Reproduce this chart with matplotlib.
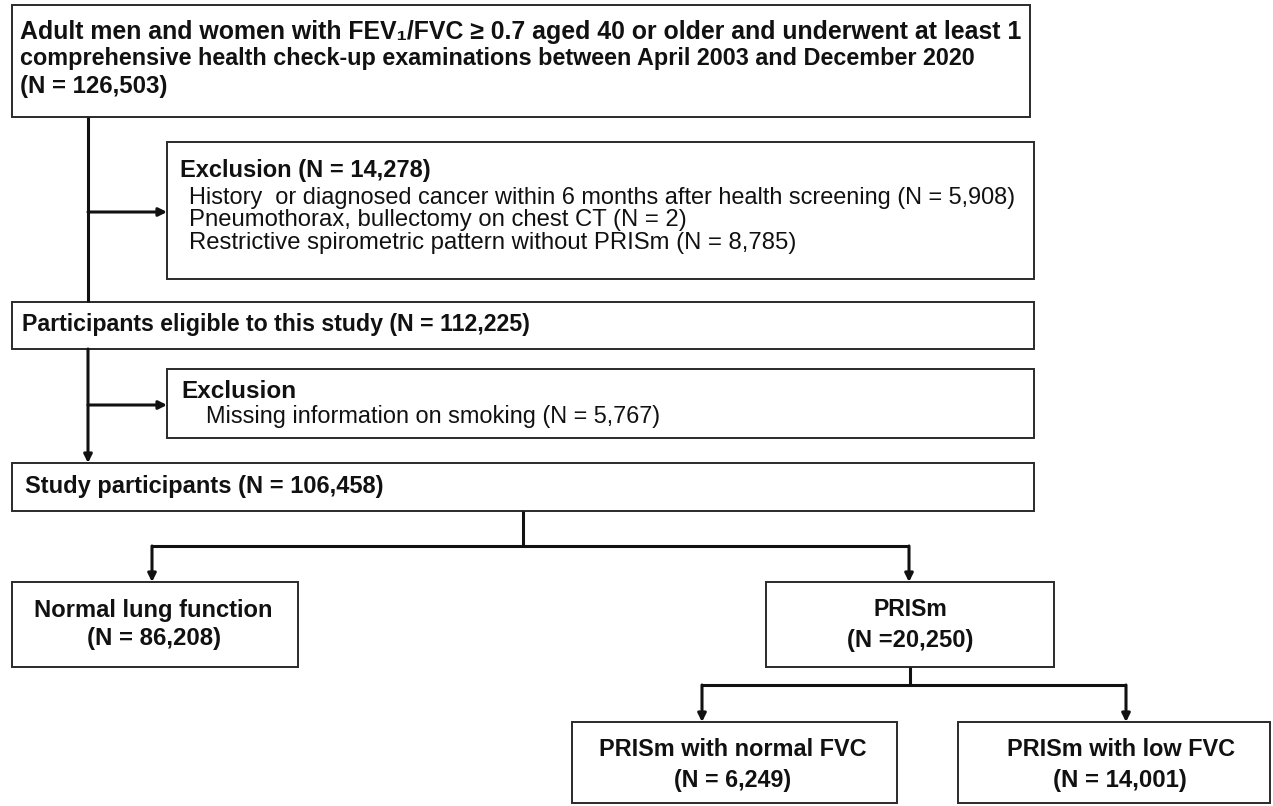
import matplotlib
matplotlib.use("Agg")
import matplotlib.pyplot as plt
from matplotlib.patches import Rectangle, FancyArrowPatch

# ---------------- data ----------------
cohort_n = 126503
excl1_total = 14278
excl1_reasons = ["History  or diagnosed cancer within 6 months after health screening",
                 "Pneumothorax, bullectomy on chest CT",
                 "Restrictive spirometric pattern without PRISm"]
excl1_counts = [5908, 2, 8785]
eligible_n = 112225
excl2_reasons = ["Missing information on smoking"]
excl2_counts = [5767]
study_n = 106458
group_labels = ["Normal lung function", "PRISm"]
group_counts = [86208, 20250]
prism_sub_labels = ["PRISm with normal FVC", "PRISm with low FVC"]
prism_sub_counts = [6249, 14001]

# ---------------- figure ----------------
W, H = 1273, 806
fig = plt.figure(figsize=(W / 100, H / 100), dpi=100)
ax = fig.add_axes([0, 0, 1, 1])
ax.set_xlim(0, W)
ax.set_ylim(H, 0)
ax.axis("off")
renderer = fig.canvas.get_renderer()

FAM = ["Liberation Sans", "DejaVu Sans"]
TXT = "#111111"
EDGE = "#2a2a2a"
LINE = "#111111"


def fmt(n):
    return f"{n:,}"


def fit_text(x, y, s, x_left, x_right, weight="bold", ha="left"):
    t = ax.text(x, y, s, ha=ha, va="center", fontsize=12, family=FAM,
                weight=weight, color=TXT)
    bb = t.get_window_extent(renderer=renderer)
    t.set_fontsize(12 * (x_right - x_left) / bb.width)
    return t


def box(x0, y0, x1, y1):
    ax.add_patch(Rectangle((x0, y0), x1 - x0, y1 - y0, fill=False,
                           edgecolor=EDGE, linewidth=1.4))


def line(xs, ys):
    ax.plot(xs, ys, color=LINE, linewidth=2.2, solid_capstyle="butt")


def arrow(x0, y0, x1, y1):
    ax.add_patch(FancyArrowPatch((x0, y0), (x1, y1), arrowstyle="-|>",
                                 mutation_scale=12, color=LINE,
                                 linewidth=2.2, shrinkA=0, shrinkB=0))


# ---- top box ----
box(12, 5, 1030, 117)
fit_text(20, 32, "Adult men and women with FEV\u2081/FVC \u2265 0.7 aged 40 or older and underwent at least 1", 20, 1018)
fit_text(20, 59, "comprehensive health check-up examinations between April 2003 and December 2020", 20, 970)
fit_text(20, 86, f"(N = {fmt(cohort_n)})", 20, 167)

# ---- exclusion 1 ----
box(167, 142, 1034, 279)
fit_text(180, 170, f"Exclusion (N = {fmt(excl1_total)})", 180, 430)
ends1 = [1018, 688, 797]
ys1 = [198, 220, 243]
for r, c, e, y in zip(excl1_reasons, excl1_counts, ends1, ys1):
    fit_text(189, y, f"{r} (N = {fmt(c)})", 189, e, weight="normal")

# ---- eligible ----
box(12, 302, 1034, 349)
fit_text(22, 325, f"Participants eligible to this study (N = {fmt(eligible_n)})", 22, 529)

# ---- exclusion 2 ----
box(167, 369, 1034, 438)
fit_text(181, 392, "Exclusion", 181, 295)
fit_text(206, 417, f"{excl2_reasons[0]} (N = {fmt(excl2_counts[0])})", 206, 660, weight="normal")

# ---- study participants ----
box(12, 463, 1034, 511)
fit_text(25, 487, f"Study participants (N = {fmt(study_n)})", 25, 382)

# ---- main left flow ----
line([88, 88], [117, 302])
arrow(88, 212, 167, 212)
arrow(88, 349, 88, 463)
arrow(88, 405, 167, 405)

# ---- split to groups ----
line([523, 523], [511, 546])
line([152, 909], [546, 546])
arrow(152, 546, 152, 582)
arrow(909, 546, 909, 582)

box(12, 582, 298, 667)
fit_text(153, 610, group_labels[0], 35, 272, ha="center")
fit_text(154, 638, f"(N = {fmt(group_counts[0])})", 87, 221, ha="center")

box(766, 582, 1054, 667)
fit_text(910, 610, group_labels[1], 873, 947, ha="center")
fit_text(910, 641, f"(N ={fmt(group_counts[1])})", 847, 973, ha="center")

# ---- split PRISm ----
line([910, 910], [667, 685])
line([702, 1126], [685, 685])
arrow(702, 685, 702, 722)
arrow(1126, 685, 1126, 722)

box(572, 722, 897, 803)
fit_text(733, 750, prism_sub_labels[0], 600, 866, ha="center")
fit_text(733, 781, f"(N = {fmt(prism_sub_counts[0])})", 675, 792, ha="center")

box(958, 722, 1270, 803)
fit_text(1121, 750, prism_sub_labels[1], 1007, 1235, ha="center")
fit_text(1120, 780, f"(N = {fmt(prism_sub_counts[1])})", 1053, 1187, ha="center")

fig.savefig("out.png", dpi=100, facecolor="white")
